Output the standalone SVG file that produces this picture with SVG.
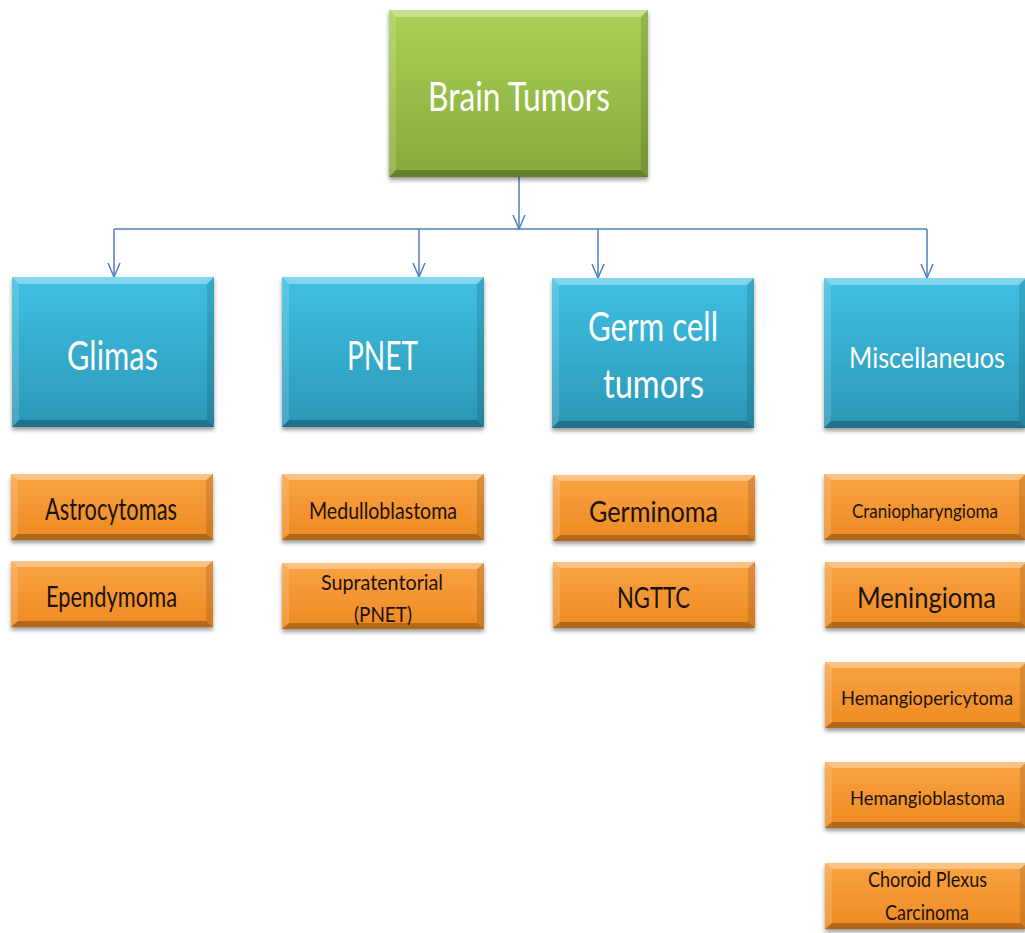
<svg xmlns="http://www.w3.org/2000/svg" xmlns:xlink="http://www.w3.org/1999/xlink" width="1025" height="933" viewBox="0 0 1025 933">
<style>
text{font-family:Lato,"Open Sans","Liberation Sans",sans-serif;text-anchor:middle}
.w{fill:#ffffff}
.k{fill:#1b1208}
.conn{fill:none;stroke:#4f81bd;stroke-width:1.5}
.bt{fill:#ffffff;opacity:.35}
.bl{fill:#ffffff;opacity:.15}
.br{fill:#000000;opacity:.12}
.bb{fill:#000000;opacity:.25}
</style>
<defs>
<linearGradient id="gGreen" x1="0" y1="0" x2="0" y2="1"><stop offset="0" stop-color="#a9d155"/><stop offset="1" stop-color="#86a93a"/></linearGradient>
<linearGradient id="gBlue" x1="0" y1="0" x2="0" y2="1"><stop offset="0" stop-color="#3fc0e3"/><stop offset="1" stop-color="#2b97b6"/></linearGradient>
<linearGradient id="gOrange" x1="0" y1="0" x2="0" y2="1"><stop offset="0" stop-color="#f9a343"/><stop offset="1" stop-color="#ee8a22"/></linearGradient>
<filter id="sh" x="-10%" y="-10%" width="120%" height="130%"><feDropShadow dx="0" dy="3" stdDeviation="2" flood-color="#000" flood-opacity="0.4"/></filter>
<marker id="arr" viewBox="-1 -7 16 14" refX="14" refY="0" markerWidth="16" markerHeight="14" markerUnits="userSpaceOnUse" orient="auto">
<path d="M0,-6 L14,0 L0,6" fill="none" stroke="#4f81bd" stroke-width="1.5"/>
</marker>
<g id="blueBox">
<rect x="0" y="0" width="202" height="150" fill="url(#gBlue)" filter="url(#sh)"/>
<polygon class="bt" points="0,0 202,0 195,7 7,7"/>
<polygon class="bl" points="0,0 7,7 7,143 0,150"/>
<polygon class="br" points="202,0 202,150 195,143 195,7"/>
<polygon class="bb" points="0,150 202,150 195,143 7,143"/>
</g>
<g id="orBox">
<rect x="0" y="0" width="202" height="66" fill="url(#gOrange)" filter="url(#sh)"/>
<polygon class="bt" points="0,0 202,0 195,6 7,6"/>
<polygon class="bl" points="0,0 7,6 7,60 0,66"/>
<polygon class="br" points="202,0 202,66 195,60 195,6"/>
<polygon class="bb" points="0,66 202,66 195,60 7,60"/>
</g>
</defs>
<rect width="1025" height="933" fill="#ffffff"/>

<g id="connectors">
<path class="conn" d="M519,177 V229" marker-end="url(#arr)"/>
<path class="conn" d="M114,229 H927"/>
<path class="conn" d="M114,229 V277" marker-end="url(#arr)"/>
<path class="conn" d="M419,229 V277" marker-end="url(#arr)"/>
<path class="conn" d="M598,229 V278" marker-end="url(#arr)"/>
<path class="conn" d="M927,229 V278" marker-end="url(#arr)"/>
</g>

<g id="root">
<rect x="389" y="10" width="259" height="167" fill="url(#gGreen)" filter="url(#sh)"/>
<polygon class="bt" points="389,10 648,10 641,17 396,17"/>
<polygon class="bl" points="389,10 396,17 396,170 389,177"/>
<polygon class="br" points="648,10 648,177 641,170 641,17"/>
<polygon class="bb" points="389,177 648,177 641,170 396,170"/>
<text class="w" x="519" y="111" font-size="40" textLength="182" lengthAdjust="spacingAndGlyphs">Brain Tumors</text>
</g>

<g id="glimas">
<use xlink:href="#blueBox" x="12" y="277"/>
<text class="w" x="112.5" y="370" font-size="40" textLength="91" lengthAdjust="spacingAndGlyphs">Glimas</text>
</g>
<g id="pnet">
<use xlink:href="#blueBox" x="282" y="277"/>
<text class="w" x="382.5" y="370" font-size="40" textLength="71" lengthAdjust="spacingAndGlyphs">PNET</text>
</g>
<g id="germcell">
<use xlink:href="#blueBox" x="552" y="278"/>
<text class="w" x="653" y="341" font-size="40" textLength="130" lengthAdjust="spacingAndGlyphs">Germ cell</text>
<text class="w" x="653.5" y="398" font-size="40" textLength="101" lengthAdjust="spacingAndGlyphs">tumors</text>
</g>
<g id="misc">
<use xlink:href="#blueBox" x="824" y="278"/>
<text class="w" x="927" y="368" font-size="28" textLength="156" lengthAdjust="spacingAndGlyphs">Miscellaneuos</text>
</g>

<g id="astrocytomas">
<use xlink:href="#orBox" x="11" y="474"/>
<text class="k" x="111" y="520" font-size="30" textLength="132" lengthAdjust="spacingAndGlyphs">Astrocytomas</text>
</g>
<g id="ependymoma">
<use xlink:href="#orBox" x="11" y="561"/>
<text class="k" x="111.5" y="607" font-size="28" textLength="131" lengthAdjust="spacingAndGlyphs">Ependymoma</text>
</g>
<g id="medulloblastoma">
<use xlink:href="#orBox" x="282" y="474"/>
<text class="k" x="383" y="519" font-size="24" textLength="148" lengthAdjust="spacingAndGlyphs">Medulloblastoma</text>
</g>
<g id="supratentorial">
<use xlink:href="#orBox" x="282" y="563"/>
<text class="k" x="382" y="590" font-size="21" textLength="122" lengthAdjust="spacingAndGlyphs">Supratentorial</text>
<text class="k" x="383" y="622" font-size="21" textLength="58" lengthAdjust="spacingAndGlyphs">(PNET)</text>
</g>
<g id="germinoma">
<use xlink:href="#orBox" x="553" y="475"/>
<text class="k" x="653.5" y="522" font-size="28" textLength="129" lengthAdjust="spacingAndGlyphs">Germinoma</text>
</g>
<g id="ngttc">
<use xlink:href="#orBox" x="553" y="562"/>
<text class="k" x="653.5" y="608" font-size="29" textLength="73" lengthAdjust="spacingAndGlyphs">NGTTC</text>
</g>
<g id="craniopharyngioma">
<use xlink:href="#orBox" x="824" y="474"/>
<text class="k" x="925" y="518" font-size="19" textLength="146" lengthAdjust="spacingAndGlyphs">Craniopharyngioma</text>
</g>
<g id="meningioma">
<use xlink:href="#orBox" x="825" y="562"/>
<text class="k" x="926.5" y="608" font-size="29" textLength="139" lengthAdjust="spacingAndGlyphs">Meningioma</text>
</g>
<g id="hemangiopericytoma">
<use xlink:href="#orBox" x="825" y="662"/>
<text class="k" x="927" y="705" font-size="19" textLength="172" lengthAdjust="spacingAndGlyphs">Hemangiopericytoma</text>
</g>
<g id="hemangioblastoma">
<use xlink:href="#orBox" x="825" y="762"/>
<text class="k" x="927.5" y="805" font-size="19" textLength="155" lengthAdjust="spacingAndGlyphs">Hemangioblastoma</text>
</g>
<g id="choroid">
<use xlink:href="#orBox" x="825" y="863"/>
<text class="k" x="927.5" y="887" font-size="21" textLength="119" lengthAdjust="spacingAndGlyphs">Choroid Plexus</text>
<text class="k" x="927" y="920" font-size="21" textLength="84" lengthAdjust="spacingAndGlyphs">Carcinoma</text>
</g>
</svg>
